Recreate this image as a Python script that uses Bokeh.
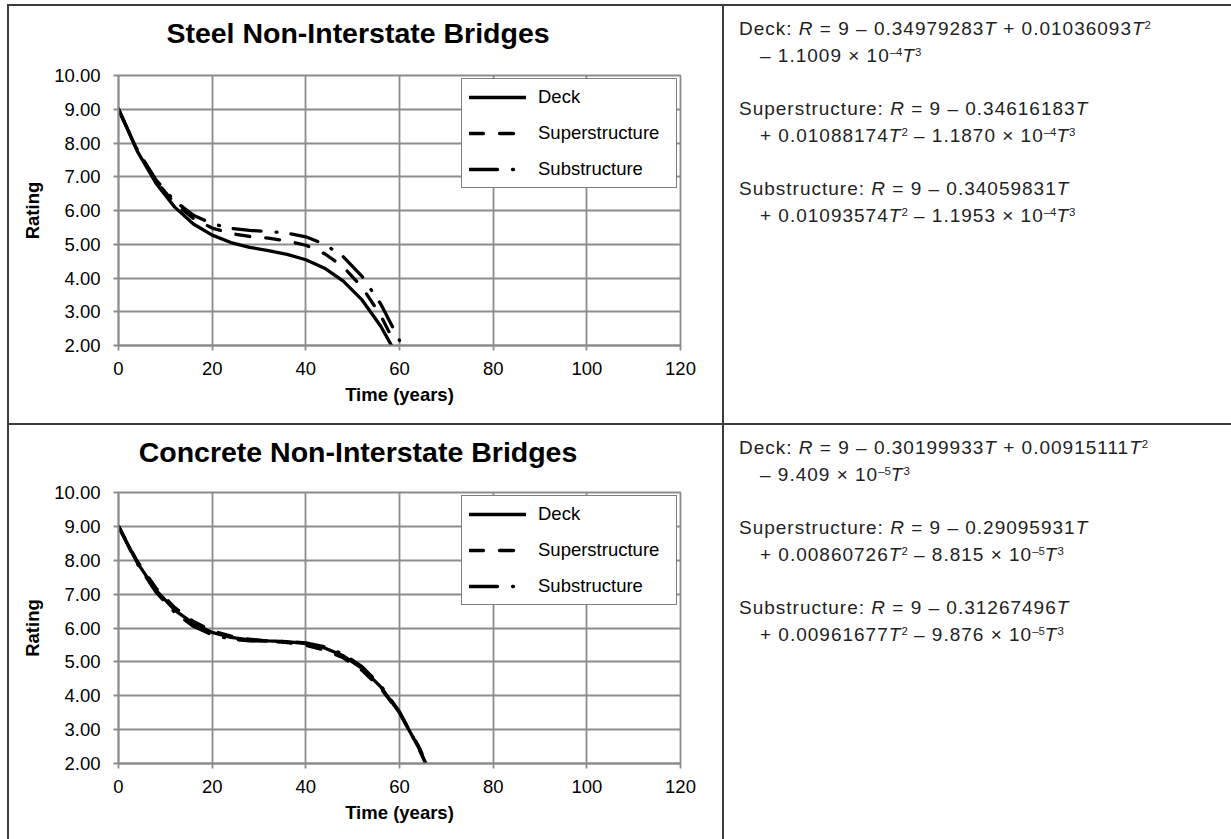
from bokeh.plotting import figure
from bokeh.models import (Legend, LegendItem, FixedTicker, NumeralTickFormatter,
                          Div, Spacer, Range1d)
from bokeh.layouts import row, column
from bokeh.embed import file_html
from bokeh.resources import INLINE

FONT = "Liberation Sans"

# ---------------- data ----------------
x_ticks = [0, 20, 40, 60, 80, 100, 120]
y_ticks = [2, 3, 4, 5, 6, 7, 8, 9, 10]
series_names = ["Deck", "Superstructure", "Substructure"]

steel_deck_t = [0, 4, 8, 12, 16, 20, 24, 28, 32, 36, 40, 44, 48, 52, 56, 58.3]
steel_deck_r = [9.00, 7.76, 6.81, 6.10, 5.60, 5.27, 5.05, 4.91, 4.81, 4.70, 4.54, 4.29, 3.91, 3.35, 2.57, 2.00]
steel_super_t = [0, 4, 8, 12, 16, 20, 24, 28, 32, 36, 40, 44, 48, 52, 56, 59.25]
steel_super_r = [9.00, 7.78, 6.87, 6.21, 5.76, 5.48, 5.32, 5.23, 5.18, 5.10, 4.97, 4.72, 4.33, 3.73, 2.89, 2.00]
steel_sub_t = [0, 4, 8, 12, 16, 20, 24, 28, 32, 36, 40, 44, 48, 52, 56, 60]
steel_sub_r = [9.00, 7.80, 6.91, 6.28, 5.86, 5.61, 5.47, 5.41, 5.38, 5.33, 5.22, 5.00, 4.63, 4.05, 3.23, 2.15]

conc_deck_t = [0, 4, 8, 12, 16, 20, 24, 28, 32, 36, 40, 44, 48, 52, 56, 60, 64, 65.6]
conc_deck_r = [9.00, 7.93, 7.12, 6.53, 6.13, 5.87, 5.72, 5.65, 5.62, 5.60, 5.54, 5.41, 5.18, 4.81, 4.26, 3.50, 2.49, 2.00]
conc_super_t = [0, 4, 8, 12, 16, 20, 24, 28, 32, 36, 40, 44, 48, 52, 56, 60, 64, 65.8]
conc_super_r = [9.00, 7.97, 7.18, 6.60, 6.19, 5.92, 5.76, 5.67, 5.61, 5.57, 5.49, 5.35, 5.12, 4.75, 4.22, 3.49, 2.53, 2.00]
conc_sub_t = [0, 4, 8, 12, 16, 20, 24, 28, 32, 36, 40, 44, 48, 52, 56, 60, 64, 65.6]
conc_sub_r = [9.00, 7.90, 7.06, 6.46, 6.05, 5.80, 5.67, 5.62, 5.61, 5.60, 5.56, 5.45, 5.23, 4.86, 4.30, 3.53, 2.49, 2.00]

chart_titles = ["Steel Non-Interstate Bridges", "Concrete Non-Interstate Bridges"]

# equation coefficients (as printed)
steel_eq_a = ["0.34979283", "0.34616183", "0.34059831"]
steel_eq_b = ["0.01036093", "0.01088174", "0.01093574"]
steel_eq_c = ["1.1009", "1.1870", "1.1953"]
steel_eq_e = ["4", "4", "4"]
conc_eq_a = ["0.30199933", "0.29095931", "0.31267496"]
conc_eq_b = ["0.00915111", "0.00860726", "0.00961677"]
conc_eq_c = ["9.409", "8.815", "9.876"]
conc_eq_e = ["5", "5", "5"]

# ---------------- styling ----------------
GRID = "#8c8c8c"
TABLE = "#3c3c3c"
DASHES = ["solid", "14 16", "28 15 1 14"]
CELL_W = 713
TITLE_H = 50


def make_chart(ts, rs, fig_h, mb_top, mb_bottom):
    p = figure(width=CELL_W, height=fig_h, output_backend="svg", toolbar_location=None,
               title=None,
               x_range=Range1d(0, 120), y_range=Range1d(2, 10),
               min_border_left=109, min_border_right=42,
               min_border_top=mb_top, min_border_bottom=mb_bottom,
               background_fill_color="white", border_fill_color="white",
               outline_line_color=GRID, outline_line_width=1.8, margin=(0, 0, 0, 0))

    items = []
    for name, t, r, dash in zip(series_names, ts, rs, DASHES):
        gl = p.line(t, r, line_color="black", line_width=3.3, line_dash=dash, line_cap="round")
        items.append(LegendItem(label=name, renderers=[gl]))
    legend = Legend(items=items, location="top_right", margin=3, padding=7, spacing=14,
                    glyph_width=57, glyph_height=18, label_height=18, label_standoff=12,
                    label_width=131,
                    label_text_font=FONT, label_text_font_size="18.5px", label_text_color="black",
                    border_line_color="black", border_line_width=1.5,
                    background_fill_color="white", background_fill_alpha=1.0)
    p.add_layout(legend)

    p.xaxis.ticker = FixedTicker(ticks=x_ticks)
    p.yaxis.ticker = FixedTicker(ticks=y_ticks)
    p.yaxis.formatter = NumeralTickFormatter(format="0.00")
    p.xgrid.ticker = FixedTicker(ticks=x_ticks)
    p.ygrid.ticker = FixedTicker(ticks=y_ticks)
    for g in (p.xgrid, p.ygrid):
        g.grid_line_color = GRID
        g.grid_line_width = 1.8
    for ax in (p.xaxis, p.yaxis):
        ax.axis_line_color = GRID
        ax.axis_line_width = 1.8
        ax.major_tick_line_color = GRID
        ax.major_tick_line_width = 1.8
        ax.major_tick_out = 5
        ax.major_tick_in = 0
        ax.minor_tick_line_color = None
        ax.major_label_text_font = FONT
        ax.major_label_text_font_size = "18.5px"
        ax.major_label_text_color = "black"
        ax.axis_label_text_font = FONT
        ax.axis_label_text_font_size = "18.5px"
        ax.axis_label_text_font_style = "bold"
        ax.axis_label_text_color = "black"
    p.xaxis.axis_label = "Time (years)"
    p.yaxis.axis_label = "Rating"
    p.xaxis.major_label_standoff = 11
    p.yaxis.major_label_standoff = 13
    p.xaxis.axis_label_standoff = 6
    p.yaxis.axis_label_standoff = 8
    return p


def title_div(text):
    html = ('<div style="font-family:\'Liberation Sans\',Arial,sans-serif;font-size:28.5px;'
            'font-weight:bold;line-height:33px;color:black;text-align:center;'
            'box-sizing:border-box;width:%dpx;padding:11px 15px 0 0;white-space:nowrap;">%s</div>'
            % (CELL_W, text))
    return Div(text=html, width=CELL_W, height=TITLE_H, margin=(0, 0, 0, 0))


def eq_html(a_list, b_list, c_list, e_list):
    sup = '<sup style="font-size:0.6em;line-height:0;vertical-align:0.55em;letter-spacing:0;">%s</sup>'
    ind = '<span style="display:inline-block;width:21px;"></span>'
    lines = []
    for i, name in enumerate(series_names):
        a, b, c, e = a_list[i], b_list[i], c_list[i], e_list[i]
        if i == 0:
            l1 = "%s: <i>R</i> = 9 &ndash; %s<i>T</i> + %s<i>T</i>%s" % (name, a, b, sup % "2")
            l2 = ind + "&ndash; %s &times; 10%s<i>T</i>%s" % (c, sup % ("&ndash;" + e), sup % "3")
        else:
            l1 = "%s: <i>R</i> = 9 &ndash; %s<i>T</i>" % (name, a)
            l2 = ind + "+ %s<i>T</i>%s &ndash; %s &times; 10%s<i>T</i>%s" % (
                b, sup % "2", c, sup % ("&ndash;" + e), sup % "3")
        lines.append(l1 + "<br>" + l2)
    body = "<br><br>".join(lines)
    return ('<div style="font-family:\'Liberation Sans\',Arial,sans-serif;font-size:19px;'
            'letter-spacing:1px;line-height:26.7px;color:#222;padding:10px 0 0 15px;'
            'white-space:nowrap;">' + body + '</div>')


def line_div(w, h):
    return Div(text='<div style="width:%dpx;height:%dpx;background:%s;"></div>' % (w, h, TABLE),
               width=w, height=h, margin=(0, 0, 0, 0),
               styles={"background-color": TABLE, "overflow": "hidden"})


def gap(w, h):
    return Spacer(width=w, height=h, margin=(0, 0, 0, 0))


# top cell: y 6..423 (417), bottom cell: y 425..839 (414)
chart_top = make_chart([steel_deck_t, steel_super_t, steel_sub_t],
                       [steel_deck_r, steel_super_r, steel_sub_r], 417 - TITLE_H, 19, 78)
chart_bot = make_chart([conc_deck_t, conc_super_t, conc_sub_t],
                       [conc_deck_r, conc_super_r, conc_sub_r], 414 - TITLE_H, 17, 76)

cell_top = column(title_div(chart_titles[0]), chart_top, spacing=0)
cell_bot = column(title_div(chart_titles[1]), chart_bot, spacing=0)

eq_top = Div(text=eq_html(steel_eq_a, steel_eq_b, steel_eq_c, steel_eq_e),
             width=507, height=417, margin=(0, 0, 0, 0))
eq_bot = Div(text=eq_html(conc_eq_a, conc_eq_b, conc_eq_c, conc_eq_e),
             width=507, height=414, margin=(0, 0, 0, 0))

layout = column(
    gap(1231, 4),
    row(gap(7, 2), line_div(1224, 2), spacing=0),
    row(gap(7, 417), line_div(2, 417), cell_top, line_div(2, 417), eq_top, spacing=0),
    row(gap(7, 2), line_div(1224, 2), spacing=0),
    row(gap(7, 414), line_div(2, 414), cell_bot, line_div(2, 414), eq_bot, spacing=0),
    spacing=0,
)

with open("out.html", "w") as f:
    f.write(file_html(layout, INLINE))
